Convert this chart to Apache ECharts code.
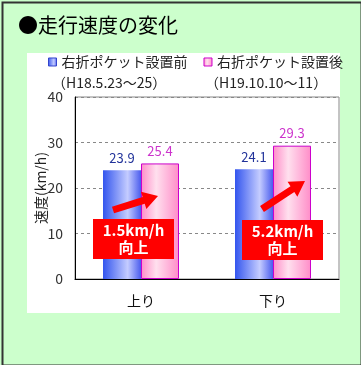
<!DOCTYPE html>
<html><head><meta charset="utf-8">
<script src="https://cdn.jsdelivr.net/npm/echarts@6/dist/echarts.min.js"></script>
<style>html,body{margin:0;padding:0;background:#ccffcc;}#c{width:361px;height:365px;}</style>
</head><body><div id="c"></div>
<script>
var title = '●走行速度の変化';
var categories = ['上り', '下り'];
var seriesNames = ['右折ポケット設置前', '右折ポケット設置後'];
var periodLabels = ['（H18.5.23〜25）', '（H19.10.10〜11）'];
var before = [23.9, 24.1];
var after = [25.4, 29.3];
var yTicks = [0, 10, 20, 30, 40];
var yName = '速度(km/h)';
var improveLabels = ['1.5km/h\n向上', '5.2km/h\n向上'];

var FONT = '"Noto Sans CJK JP", sans-serif';
var blueGrad = new echarts.graphic.LinearGradient(0, 0, 1, 0, [
  {offset: 0, color: '#3355ee'}, {offset: 0.65, color: '#c4ccff'}, {offset: 1, color: '#4a5cee'}]);
var pinkGrad = new echarts.graphic.LinearGradient(0, 0, 1, 0, [
  {offset: 0, color: '#ff8cc8'}, {offset: 0.4, color: '#ffe0ee'}, {offset: 1, color: '#ff8cc8'}]);

function arrowPts(x1, y1, x2, y2) {
  var dx = x2 - x1, dy = y2 - y1, L = Math.sqrt(dx*dx + dy*dy);
  var ux = dx / L, uy = dy / L, nx = -uy, ny = ux;
  var hl = 15, sw = 3.5, hw = 9;
  var bx = x2 - ux*hl, by = y2 - uy*hl;
  return [[x1 + nx*sw, y1 + ny*sw], [bx + nx*sw, by + ny*sw], [bx + nx*hw, by + ny*hw], [x2, y2],
          [bx - nx*hw, by - ny*hw], [bx - nx*sw, by - ny*sw], [x1 - nx*sw, y1 - ny*sw]];
}

var chart = echarts.init(document.getElementById('c'), null, {renderer: 'canvas'});
var option = {
  backgroundColor: '#ccffcc',
  animation: false,
  textStyle: {fontFamily: FONT},
  grid: {left: 75, right: 22, top: 97, bottom: 86, show: true, borderColor: '#888', borderWidth: 1, backgroundColor: 'transparent'},
  legend: {
    left: 43, top: 50, itemWidth: 8, itemHeight: 8, itemGap: 16,
    textStyle: {fontFamily: FONT, fontSize: 14, color: '#222'},
    data: [
      {name: seriesNames[0], icon: 'rect', itemStyle: {color: blueGrad, borderColor: '#3344cc', borderWidth: 1}},
      {name: seriesNames[1], icon: 'rect', itemStyle: {color: pinkGrad, borderColor: '#cc00cc', borderWidth: 1}}
    ]
  },
  xAxis: {
    type: 'category', data: categories,
    axisLine: {lineStyle: {color: '#000', width: 1}},
    axisTick: {inside: true, length: 4, lineStyle: {color: '#000'}},
    axisLabel: {fontFamily: FONT, fontSize: 14, color: '#111', margin: 15}
  },
  yAxis: {
    type: 'value', min: yTicks[0], max: yTicks[yTicks.length-1], interval: 10,
    name: yName, nameLocation: 'middle', nameGap: 27, nameRotate: 90, nameMoveOverlap: false,
    nameTextStyle: {fontFamily: FONT, fontSize: 14, color: '#222'},
    axisLine: {show: true, lineStyle: {color: '#000'}},
    axisTick: {show: false},
    axisLabel: {fontFamily: FONT, fontSize: 14, color: '#333', margin: 12},
    splitLine: {lineStyle: {type: [3, 3], color: '#888'}}
  },
  series: [
    {name: seriesNames[0], type: 'bar', data: before, barWidth: 38, barGap: '0%',
     itemStyle: {color: blueGrad, borderColor: '#3344cc', borderWidth: 0},
     label: {show: true, position: 'top', distance: 6, fontFamily: FONT, fontSize: 13, color: '#22339a'}},
    {name: seriesNames[1], type: 'bar', data: after, barWidth: 38,
     itemStyle: {color: pinkGrad, borderColor: '#cc00cc', borderWidth: 1},
     label: {show: true, position: 'top', distance: 6, fontFamily: FONT, fontSize: 13, color: '#cc33cc'}}
  ],
  graphic: [
    {type: 'rect', left: 27, top: 53, z: -10, silent: true, shape: {width: 313, height: 260}, style: {fill: '#ffffff'}},
    {type: 'rect', left: 0, top: 0, z: 100, silent: true, shape: {x: 1, y: 1, width: 359, height: 363}, style: {fill: null, stroke: '#333', lineWidth: 2}},
    {type: 'text', left: 18, top: 15, style: {text: title, font: '20px ' + FONT, fill: '#000'}},
    {type: 'text', left: 52, top: 76, style: {text: periodLabels[0], font: '14px ' + FONT, fill: '#222'}},
    {type: 'text', left: 205, top: 76, style: {text: periodLabels[1], font: '14px ' + FONT, fill: '#222'}},
    {type: 'polygon', z: 50, shape: {points: arrowPts(113, 210, 158, 196)}, style: {fill: '#ff0000'}},
    {type: 'polygon', z: 50, shape: {points: arrowPts(262, 209, 305, 181)}, style: {fill: '#ff0000'}},
    {type: 'rect', z: 50, shape: {x: 93, y: 219, width: 81, height: 40}, style: {fill: '#ff0000'}},
    {type: 'rect', z: 50, shape: {x: 242, y: 220, width: 81, height: 40}, style: {fill: '#ff0000'}},
    {type: 'text', z: 51, x: 133.5, y: 239, style: {text: improveLabels[0], font: 'bold 15px ' + FONT, fill: '#fff', align: 'center', verticalAlign: 'middle', lineHeight: 17}},
    {type: 'text', z: 51, x: 282.5, y: 240, style: {text: improveLabels[1], font: 'bold 15px ' + FONT, fill: '#fff', align: 'center', verticalAlign: 'middle', lineHeight: 17}}
  ]
};
chart.setOption(option);
</script></body></html>
